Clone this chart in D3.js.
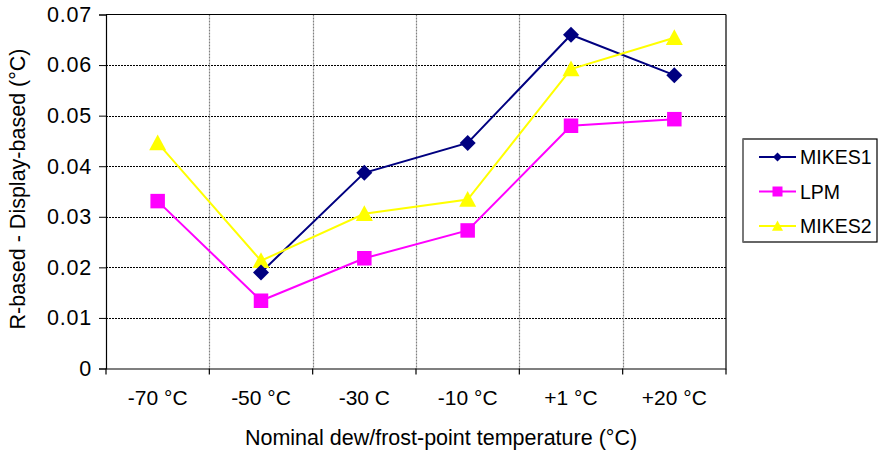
<!DOCTYPE html>
<html>
<head>
<meta charset="utf-8">
<script src="https://cdn.jsdelivr.net/npm/d3@7"></script>
<style>
  html, body { margin: 0; padding: 0; background: #fff; }
  svg { display: block; font-family: "Liberation Sans", Arial, sans-serif; }
</style>
</head>
<body>
<svg id="chart" width="882" height="452"></svg>
<script>
const categories = ["-70 °C", "-50 °C", "-30 C", "-10 °C", "+1 °C", "+20 °C"];
const mikes1 = [null, 0.0190, 0.0387, 0.0446, 0.0660, 0.0580];
const lpm    = [0.0331, 0.0134, 0.0218, 0.0273, 0.0480, 0.0493];
const mikes2 = [0.0446, 0.0213, 0.0306, 0.0334, 0.0592, 0.0654];
const yTicks = [0, 0.01, 0.02, 0.03, 0.04, 0.05, 0.06, 0.07];
const yTickLabels = ["0", "0.01", "0.02", "0.03", "0.04", "0.05", "0.06", "0.07"];
const seriesNames = ["MIKES1", "LPM", "MIKES2"];
const xTitle = "Nominal dew/frost-point temperature (°C)";
const yTitle = "R-based - Display-based (°C)";

const series = [
  { name: seriesNames[0], values: mikes1, color: "#000080", shape: "diamond" },
  { name: seriesNames[1], values: lpm,    color: "#FF00FF", shape: "square" },
  { name: seriesNames[2], values: mikes2, color: "#FFFF00", shape: "triangle" }
];

const svg = d3.select("#chart");
const m = { left: 106, top: 14.5, right: 726, bottom: 368.5 };

const x = d3.scaleBand().domain(categories).range([m.left, m.right]).padding(0);
const y = d3.scaleLinear().domain([0, 0.07]).range([m.bottom, m.top]);

// Horizontal gridlines (black dotted)
svg.append("g").selectAll("line").data(yTicks.filter(t => t > 0 && t < 0.07)).join("line")
  .attr("x1", m.left).attr("x2", m.right)
  .attr("y1", d => Math.round(y(d)) + 0.5).attr("y2", d => Math.round(y(d)) + 0.5)
  .attr("stroke", "#000").attr("stroke-width", 1).attr("stroke-dasharray", "2,1");

// Vertical gridlines (gray dotted) at category boundaries
const bounds = categories.slice(1).map(c => x(c));
svg.append("g").selectAll("line").data(bounds).join("line")
  .attr("x1", d => Math.round(d) + 0.5).attr("x2", d => Math.round(d) + 0.5)
  .attr("y1", m.top).attr("y2", m.bottom)
  .attr("stroke", "#808080").attr("stroke-width", 1.2).attr("stroke-dasharray", "2,1");

// Plot border top & right
svg.append("line").attr("x1", m.left).attr("x2", m.right).attr("y1", m.top).attr("y2", m.top)
  .attr("stroke", "#000").attr("stroke-width", 1.2);
svg.append("line").attr("x1", m.right).attr("x2", m.right).attr("y1", m.top).attr("y2", m.bottom)
  .attr("stroke", "#000").attr("stroke-width", 1.2);

// Y axis
const yAxis = d3.axisLeft(y).tickValues(yTicks).tickFormat((d, i) => yTickLabels[i]).tickSize(7).tickPadding(7);
const gy = svg.append("g").attr("transform", `translate(${m.left},0)`).call(yAxis);
gy.select(".domain").attr("stroke", "#000").attr("stroke-width", 1.2);
gy.selectAll(".tick line").attr("stroke", "#000");
gy.selectAll(".tick text").attr("font-size", 21.5).attr("fill", "#000")
  .attr("font-family", "'Liberation Sans', Arial, sans-serif").attr("letter-spacing", "0.8px");

// X axis
const xAxis = d3.axisBottom(x).tickSize(0).tickPadding(22);
const gx = svg.append("g").attr("transform", `translate(0,${m.bottom})`).call(xAxis);
gx.select(".domain").attr("stroke", "#000").attr("stroke-width", 1.2);
gx.selectAll(".tick text").attr("font-size", 21).attr("fill", "#000")
  .attr("font-family", "'Liberation Sans', Arial, sans-serif");
// boundary ticks
svg.append("g").selectAll("line").data([m.left, ...bounds, m.right]).join("line")
  .attr("x1", d => d).attr("x2", d => d).attr("y1", m.bottom).attr("y2", m.bottom + 6)
  .attr("stroke", "#000").attr("stroke-width", 1.2);

// Axis titles
svg.append("text").attr("x", 441).attr("y", 445).attr("text-anchor", "middle")
  .attr("font-size", 21.5).attr("fill", "#000").text(xTitle);
svg.append("text").attr("transform", "translate(25,189) rotate(-90)").attr("text-anchor", "middle")
  .attr("font-size", 21.5).attr("fill", "#000").text(yTitle);

// Lines
const cx = c => x(c) + x.bandwidth() / 2;
const line = d3.line().defined(d => d.v !== null).x(d => cx(d.c)).y(d => y(d.v));
series.forEach(s => {
  const pts = categories.map((c, i) => ({ c, v: s.values[i] }));
  svg.append("path").datum(pts).attr("d", line)
    .attr("fill", "none").attr("stroke", s.color).attr("stroke-width", 2);
});

function shapePath(shape, size) {
  const h = size / 2;
  if (shape === "diamond") return `M0,${-h}L${h},0L0,${h}L${-h},0Z`;
  if (shape === "square") return `M${-h},${-h}H${h}V${h}H${-h}Z`;
  return `M0,${-h}L${h},${h * 0.85}L${-h},${h * 0.85}Z`;
}
const markerSize = { diamond: 16, square: 14.5, triangle: 17 };

// Markers (reverse order so MIKES1 sits on top)
series.slice().reverse().forEach(s => {
  const pts = categories.map((c, i) => ({ c, v: s.values[i] })).filter(d => d.v !== null);
  svg.append("g").selectAll("path").data(pts).join("path")
    .attr("transform", d => `translate(${cx(d.c)},${y(d.v)})`)
    .attr("d", shapePath(s.shape, markerSize[s.shape]))
    .attr("fill", s.color);
});

// Legend
const lg = svg.append("g");
lg.append("rect").attr("x", 743).attr("y", 139).attr("width", 134).attr("height", 103)
  .attr("fill", "#fff").attr("stroke", "#000").attr("stroke-width", 1.2);
lg.append("line").attr("x1", 743).attr("x2", 743).attr("y1", 139).attr("y2", 242)
  .attr("stroke", "#808080").attr("stroke-width", 1.5);
const legendY = d3.scalePoint().domain(seriesNames).range([157, 226]);
const legendMarker = { diamond: 9, square: 10, triangle: 11 };
series.forEach(s => {
  const yy = legendY(s.name);
  lg.append("line").attr("x1", 759).attr("x2", 796).attr("y1", yy).attr("y2", yy)
    .attr("stroke", s.color).attr("stroke-width", 2);
  lg.append("path").attr("transform", `translate(777.5,${yy})`)
    .attr("d", shapePath(s.shape, legendMarker[s.shape])).attr("fill", s.color);
  lg.append("text").attr("x", 800).attr("y", yy + 7).attr("font-size", 19.5)
    .attr("fill", "#000").text(s.name);
});
</script>
</body>
</html>
